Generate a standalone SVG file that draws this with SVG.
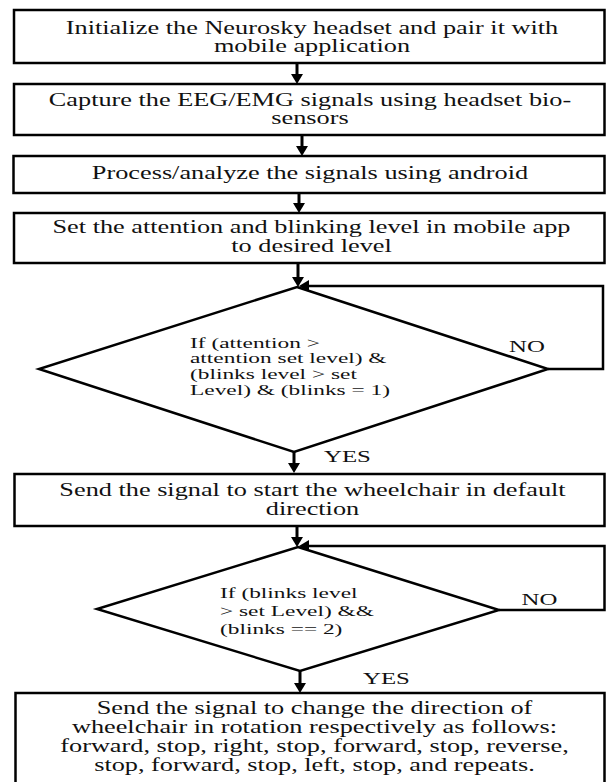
<svg xmlns="http://www.w3.org/2000/svg" width="606" height="782" viewBox="0 0 606 782">
<defs>
<style>
.box{fill:#fff;stroke:#000;stroke-width:2.5}
.dia{fill:#fff;stroke:#000;stroke-width:2.5;stroke-linejoin:miter}
.t{font-family:"Liberation Serif","Times New Roman",serif;font-size:18px;fill:#111;text-anchor:middle}
.d{font-family:"Liberation Serif","Times New Roman",serif;font-size:14px;fill:#111;text-anchor:start}
.l{font-family:"Liberation Serif","Times New Roman",serif;font-size:17px;fill:#111;text-anchor:start}
.c{fill:none;stroke:#000;stroke-width:3}
.lp{fill:none;stroke:#000;stroke-width:2.5}
</style>
<marker id="ah" viewBox="0 0 10 12" markerWidth="10" markerHeight="12" refX="0" refY="6" orient="auto" markerUnits="userSpaceOnUse">
<path d="M0,0 L10,6 L0,12 z" fill="#000"/>
</marker>
</defs>
<rect width="606" height="782" fill="#fff"/>

<g id="connectors">
<line class="c" x1="297" y1="63" x2="297" y2="74" marker-end="url(#ah)"/>
<line class="c" x1="302" y1="135" x2="302" y2="146" marker-end="url(#ah)"/>
<line class="c" x1="299" y1="193" x2="299" y2="203" marker-end="url(#ah)"/>
<line class="c" x1="298" y1="263" x2="298" y2="277" marker-end="url(#ah)"/>
<polyline class="lp" points="548,369 603,369 603,286 309,286" marker-end="url(#ah)"/>
<line class="c" x1="294" y1="452" x2="294" y2="463" marker-end="url(#ah)"/>
<line class="c" x1="297" y1="526" x2="297" y2="537" marker-end="url(#ah)"/>
<polyline class="lp" points="499,610 604.5,610 604.5,546 309,546" marker-end="url(#ah)"/>
<line class="c" x1="300" y1="671" x2="300" y2="683" marker-end="url(#ah)"/>
<text class="l" transform="translate(509,352) scale(1.46,1)">NO</text>
<text class="l" transform="translate(324,462) scale(1.46,1)">YES</text>
<text class="l" transform="translate(521.5,605) scale(1.46,1)">NO</text>
<text class="l" transform="translate(363,683.5) scale(1.46,1)">YES</text>
</g>

<g id="n1">
<rect class="box" x="14" y="10" width="590.5" height="53"/>
<text class="t" transform="translate(312,34) scale(1.46,1)">Initialize the Neurosky headset and pair it with</text>
<text class="t" transform="translate(312,52) scale(1.46,1)">mobile application</text>
</g>

<g id="n2">
<rect class="box" x="14" y="84" width="590.5" height="51"/>
<text class="t" transform="translate(310,105.5) scale(1.46,1)">Capture the EEG/EMG signals using headset bio-</text>
<text class="t" transform="translate(310,124) scale(1.46,1)">sensors</text>
</g>

<g id="n3">
<rect class="box" x="13.5" y="156" width="591" height="37"/>
<text class="t" transform="translate(310,179) scale(1.46,1)">Process/analyze the signals using android</text>
</g>

<g id="n4">
<rect class="box" x="14" y="213" width="590.5" height="50"/>
<text class="t" transform="translate(311.5,233) scale(1.46,1)">Set the attention and blinking level in mobile app</text>
<text class="t" transform="translate(311.5,251.5) scale(1.46,1)">to desired level</text>
</g>

<g id="n5">
<polygon class="dia" points="297,287 548,369 294,452 39,369"/>
<text class="d" transform="translate(190,347.5) scale(1.67,1)">If (attention &gt;</text>
<text class="d" transform="translate(190,363.3) scale(1.67,1)">attention set level) &amp;</text>
<text class="d" transform="translate(190,379.1) scale(1.67,1)">(blinks level &gt; set</text>
<text class="d" transform="translate(190,394.9) scale(1.67,1)">Level) &amp; (blinks = 1)</text>
</g>

<g id="n6">
<rect class="box" x="14.5" y="474" width="590" height="52"/>
<text class="t" transform="translate(312.5,496) scale(1.46,1)">Send the signal to start the wheelchair in default</text>
<text class="t" transform="translate(312.5,515) scale(1.46,1)">direction</text>
</g>

<g id="n7">
<polygon class="dia" points="298,547 499,610 300,671 97,609"/>
<text class="d" transform="translate(220,598) scale(1.67,1)">If (blinks level</text>
<text class="d" transform="translate(220,616) scale(1.67,1)">&gt; set Level) &amp;&amp;</text>
<text class="d" transform="translate(220,634) scale(1.67,1)">(blinks == 2)</text>
</g>

<g id="n8">
<rect class="box" x="15.5" y="693" width="589" height="95"/>
<text class="t" transform="translate(314.5,713.5) scale(1.46,1)">Send the signal to change the direction of</text>
<text class="t" transform="translate(314.5,732.5) scale(1.46,1)">wheelchair in rotation respectively as follows:</text>
<text class="t" transform="translate(314.5,751.5) scale(1.46,1)">forward, stop, right, stop, forward, stop, reverse,</text>
<text class="t" transform="translate(314.5,770.5) scale(1.46,1)">stop, forward, stop, left, stop, and repeats.</text>
</g>
</svg>
